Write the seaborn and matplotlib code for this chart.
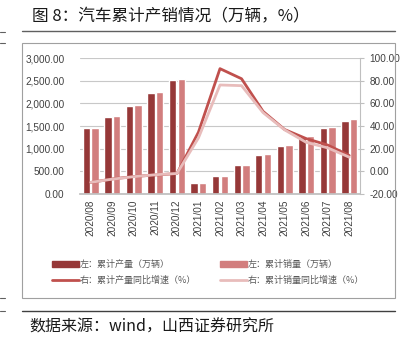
import matplotlib
matplotlib.use("Agg")
import matplotlib.pyplot as plt
import seaborn as sns
import pandas as pd
import numpy as np
from matplotlib.patches import Patch, Rectangle
from matplotlib.lines import Line2D

months = ["2020/08", "2020/09", "2020/10", "2020/11", "2020/12", "2021/01", "2021/02",
          "2021/03", "2021/04", "2021/05", "2021/06", "2021/07", "2021/08"]
production = [1447, 1695, 1951, 2235, 2523, 238, 389, 635, 858, 1057, 1257, 1445, 1617]
sales = [1455, 1712, 1970, 2247, 2531, 250, 398, 648, 873, 1075, 1289, 1476, 1656]
prod_growth = [-9.8, -6.7, -4.6, -3.2, -2.0, 34.6, 90.6, 81.7, 52.9, 36.9, 28.9, 23.2, 14.0]
sales_growth = [-9.7, -6.9, -4.7, -3.0, -1.9, 29.5, 76.2, 75.6, 51.8, 36.6, 25.6, 20.7, 12.5]
bar_labels = ["左：累计产量（万辆）", "左：累计销量（万辆）"]
line_labels = ["右：累计产量同比增速（%）", "右：累计销量同比增速（%）"]
title = "图 8：汽车累计产销情况（万辆，%）"
source = "数据来源：wind，山西证券研究所"

sns.set_theme(style="white")
plt.rcParams["font.family"] = ["Noto Sans CJK SC", "DejaVu Sans"]

c_prod, c_sales = "#963838", "#D27E7E"
c_pline, c_sline = "#C0504D", "#E8BCBB"

fig = plt.figure(figsize=(4.08, 3.43), dpi=100)
W, H = 408, 343
ax = fig.add_axes([80 / W, 1 - 194 / H, 280 / W, 136 / H])

df = pd.DataFrame({
    "month": months * 2,
    "value": production + sales,
    "series": [bar_labels[0]] * len(months) + [bar_labels[1]] * len(months),
})
sns.barplot(data=df, x="month", y="value", hue="series", ax=ax,
            palette=[c_prod, c_sales], width=0.8, gap=0.14, legend=False,
            saturation=1)
ax.set_ylim(0, 3000)
ax.set_xlim(-0.5, len(months) - 0.5)
ax.set_yticks(np.arange(0, 3001, 500))
ax.set_yticklabels([f"{v:,.2f}" for v in np.arange(0, 3001, 500)],
                   fontsize=7.2, color="#404040", family=["Liberation Sans"])
ax.set_xticks(range(len(months)))
ax.set_xticklabels(months, rotation=90, fontsize=7.2, color="#404040",
                   family=["Liberation Sans"])
ax.set_xlabel("")
ax.set_ylabel("")
ax.grid(axis="y", color="#C8C8C8", linewidth=0.8)
ax.set_axisbelow(True)
for s in ["top", "right", "left"]:
    ax.spines[s].set_visible(False)
ax.spines["bottom"].set_color("#BFBFBF")
ax.tick_params(axis="y", length=0, pad=11)
ax.tick_params(axis="x", length=0, pad=4)

ax2 = ax.twinx()
ldf = pd.DataFrame({"x": np.arange(len(months)), "p": prod_growth, "s": sales_growth})
sns.lineplot(data=ldf, x="x", y="p", ax=ax2, color=c_pline, linewidth=2)
sns.lineplot(data=ldf, x="x", y="s", ax=ax2, color=c_sline, linewidth=2)
ax2.set_ylim(-20, 100)
ax2.set_xlim(-0.5, len(months) - 0.5)
ax2.set_yticks(np.arange(-20, 101, 20))
ax2.set_yticklabels([f"{v:.2f}" for v in np.arange(-20, 101, 20)],
                    fontsize=7.2, color="#404040", family=["Liberation Sans"])
ax2.set_xlabel("")
ax2.set_ylabel("")
for s in ["top", "left", "bottom"]:
    ax2.spines[s].set_visible(False)
ax2.spines["right"].set_color("#BFBFBF")
ax2.spines["right"].set_linewidth(0.8)
ax2.tick_params(axis="y", length=3, color="#BFBFBF", pad=4, width=0.8)
ax2.grid(False)

# Legend
handles = [Patch(color=c_prod), Patch(color=c_sales),
           Line2D([], [], color=c_pline, linewidth=2), Line2D([], [], color=c_sline, linewidth=2)]
labels = [bar_labels[0], bar_labels[1], line_labels[0], line_labels[1]]
order = [0, 2, 1, 3]
fig.legend([handles[i] for i in order], [labels[i] for i in order], ncol=2,
           loc="upper left", bbox_to_anchor=(44 / W, 1 - 252 / H), frameon=False,
           fontsize=6.5, handlelength=3.0, handleheight=0.55, handletextpad=0.1,
           columnspacing=2.6, labelspacing=0.75, labelcolor="#595959")

# Frame & decorations
fig.patches.append(Rectangle((22 / W, 1 - 298 / H), 373 / W, 255 / H, transform=fig.transFigure,
                             fill=False, edgecolor="#A0A0A0", linewidth=0.8))
fig.add_artist(Line2D([22 / W, 395 / W], [1 - 31 / H] * 2, color="#606060", linewidth=1))
fig.add_artist(Line2D([22 / W, 395 / W], [1 - 311 / H] * 2, color="#404040", linewidth=1))
for yy in [32, 43, 298, 311]:
    fig.add_artist(Line2D([0, 5 / W], [1 - yy / H] * 2, color="#606060", linewidth=0.8))

fig.text(32 / W, 1 - 17 / H, title, fontsize=12, color="#1a1a1a", va="center", ha="left")
fig.text(29 / W, 1 - 327 / H, source, fontsize=11.5, color="#1a1a1a", va="center", ha="left")

fig.savefig("out.png", dpi=100)
